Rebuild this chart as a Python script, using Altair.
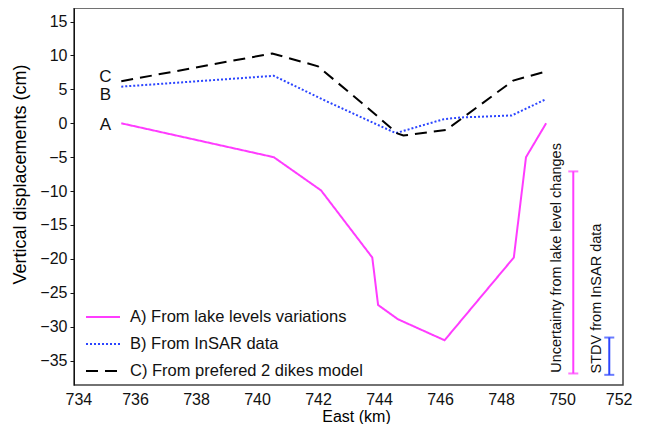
import altair as alt
import pandas as pd

# Series A: from lake levels variations
a_x = [735.55, 740.55, 742.1, 743.78, 743.97, 744.62, 746.15, 748.42, 748.82, 749.48]
a_y = [0.0, -5.0, -9.9, -19.8, -26.8, -28.9, -32.0, -19.8, -5.0, 0.0]
# Series B: from InSAR data
b_x = [735.55, 740.55, 742.3, 744.38, 744.55, 746.12, 746.66, 748.35, 749.45]
b_y = [5.4, 7.0, 3.2, -1.1, -1.45, 0.6, 0.85, 1.15, 3.5]
# Series C: from prefered 2 dikes model
c_x = [735.55, 740.5, 742.0, 743.7, 744.6, 744.8, 746.2, 748.4, 749.45]
c_y = [6.2, 10.3, 8.4, 2.0, -1.5, -1.8, -1.0, 6.3, 7.6]

series_names = ["A) From lake levels variations", "B) From InSAR data",
                "C) From prefered 2 dikes model"]
series_colors = ["#ff3cff", "#2b45ff", "#000000"]
series_dash = [[1, 0], [2, 2], [12, 7]]

letters = ["A", "B", "C"]
letter_x = [735.03, 735.03, 735.03]
letter_y = [-0.3, 4.1, 6.8]

bar_names = ["Uncertainty from lake level changes", "STDV from InSAR data"]
bar_x = [750.37, 751.55]
bar_lo = [-36.9, -37.1]
bar_hi = [-7.1, -31.6]
bar_colors = ["#ff3cff", "#2b45ff"]
bar_text_x = [749.83, 751.14]
bar_text_y = [-36.8, -36.9]

x_ticks = [734, 736, 738, 740, 742, 744, 746, 748, 750, 752]
y_ticks = [15, 10, 5, 0, -5, -10, -15, -20, -25, -30, -35]

FONT = "Liberation Sans"

rows = []
for name, xs, ys in zip(series_names, [a_x, b_x, c_x], [a_y, b_y, c_y]):
    for i, (xv, yv) in enumerate(zip(xs, ys)):
        rows.append({"series": name, "x": xv, "y": yv, "i": i})
lines_df = pd.DataFrame(rows)

xscale = alt.Scale(domain=[734, 752], nice=False, zero=False)
yscale = alt.Scale(domain=[-38.6, 17.0], nice=False, zero=False)

xaxis = alt.Axis(values=x_ticks, ticks=False, grid=False, labelPadding=6,
                 labelFontSize=16, labelFont=FONT, labelColor="#111",
                 labelOverlap=False, labelFlush=True, labelFlushOffset=9,
                 title="East (km)", titleFontSize=16, titleFont=FONT,
                 titleFontWeight="normal", titlePadding=1, titleX=282,
                 domain=False)
yaxis = alt.Axis(values=y_ticks, ticks=True, tickSize=4, grid=False,
                 labelPadding=3, labelFontSize=16, labelFont=FONT,
                 labelColor="#111", domainColor="#111", tickColor="#111",
                 labelOverlap=False, labelFlush=False,
                 title="Vertical displacements (cm)", titleFontSize=18,
                 titleFont=FONT, titleFontWeight="normal", titleX=-54,
                 titleY=166, titleAlign="center", titleBaseline="middle",
                 titleAngle=-90)

legend = alt.Legend(title=None, orient="none", legendX=11, legendY=291,
                    symbolType="stroke", symbolSize=1156,
                    symbolStrokeWidth=2, labelFontSize=16.5,
                    labelFont=FONT, labelColor="#111", labelLimit=0,
                    labelOffset=9, rowPadding=-5, padding=0)

X = lambda f: alt.X(f, scale=xscale, axis=xaxis)
Y = lambda f: alt.Y(f, scale=yscale, axis=yaxis)

lines = alt.Chart(lines_df).mark_line(strokeWidth=2, clip=True).encode(
    x=X("x:Q"),
    y=Y("y:Q"),
    color=alt.Color("series:N", scale=alt.Scale(domain=series_names, range=series_colors),
                    legend=legend),
    strokeDash=alt.StrokeDash("series:N", scale=alt.Scale(domain=series_names, range=series_dash),
                              legend=legend),
    order="i:Q",
)

letters_df = pd.DataFrame({"t": letters, "x": letter_x, "y": letter_y})
letter_marks = alt.Chart(letters_df).mark_text(fontSize=17, font=FONT, color="#111",
                                               align="center", baseline="middle").encode(
    x=X("x:Q"), y=Y("y:Q"), text="t:N")

layers = [lines, letter_marks]
for k in range(len(bar_names)):
    bdf = pd.DataFrame({"name": [bar_names[k]], "x": [bar_x[k]], "lo": [bar_lo[k]],
                        "hi": [bar_hi[k]], "tx": [bar_text_x[k]], "ty": [bar_text_y[k]]})
    base = alt.Chart(bdf)
    layers.append(base.mark_rule(strokeWidth=2, color=bar_colors[k]).encode(
        x=X("x:Q"), y=Y("lo:Q"), y2="hi:Q"))
    layers.append(base.mark_tick(orient="horizontal", size=10, thickness=2,
                                 color=bar_colors[k]).encode(x=X("x:Q"), y=Y("lo:Q")))
    layers.append(base.mark_tick(orient="horizontal", size=10, thickness=2,
                                 color=bar_colors[k]).encode(x=X("x:Q"), y=Y("hi:Q")))
    layers.append(base.mark_text(angle=270, align="left", baseline="middle",
                                 fontSize=14.5, font=FONT, color="#111").encode(
        x=X("tx:Q"), y=Y("ty:Q"), text="name:N"))

chart = alt.layer(*layers).properties(
    width=549, height=377,
    autosize=alt.AutoSizeParams(type="none"),
    padding={"left": 66, "top": 0, "right": 14, "bottom": 39},
    background="white",
).configure_view(stroke="#444", strokeWidth=1.5)

chart.save("out.html", embed_options={"renderer": "svg", "actions": False})
